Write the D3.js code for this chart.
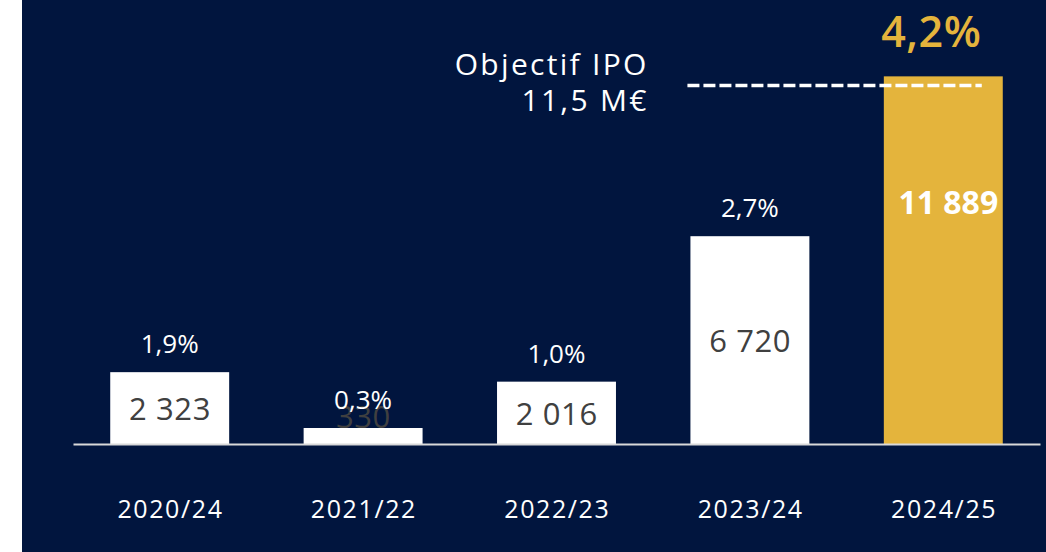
<!DOCTYPE html>
<html>
<head>
<meta charset="utf-8">
<script src="https://cdn.jsdelivr.net/npm/d3@7"></script>
<style>
  html, body { margin: 0; padding: 0; background: #ffffff; }
  svg { display: block; }
  text { font-family: "Open Sans", "Noto Sans", sans-serif; }
</style>
</head>
<body>
<svg id="chart" width="1046" height="552"></svg>
<script>
// ---- Data ----
const categories = ["2020/24", "2021/22", "2022/23", "2023/24", "2024/25"];
const values = [2323, 330, 2016, 6720, 11889];
const valueLabels = ["2 323", "330", "2 016", "6 720", "11 889"];
const pctLabels = ["1,9%", "0,3%", "1,0%", "2,7%", "4,2%"];
const targetValue = 11500;
const targetLabel = ["Objectif IPO", "11,5 M€"];

// ---- Styles ----
const NAVY = "#01153e";
const GOLD = "#e4b43c";
const W = 1046, H = 552;

const svg = d3.select("#chart");
svg.append("rect").attr("x", 22).attr("y", 0).attr("width", W - 22).attr("height", H).attr("fill", NAVY);

const x = d3.scaleBand().domain(categories).range([73, 1040]).paddingInner(0.385).paddingOuter(0.1925);
const y = d3.scaleLinear().domain([0, 13000]).range([444, 42]);
const bw = x.bandwidth();
const last = categories.length - 1;
const minH = 16;

const data = categories.map((c, i) => ({ c, v: values[i], vl: valueLabels[i], pl: pctLabels[i], i }));
const topOf = d => y(0) - Math.max(y(0) - y(d.v), minH);

// bars
svg.append("g").selectAll("rect").data(data).join("rect")
  .attr("x", d => x(d.c))
  .attr("y", d => topOf(d))
  .attr("width", bw)
  .attr("height", d => y(0) - topOf(d))
  .attr("fill", d => d.i === last ? GOLD : "#ffffff");

// baseline axis
const axis = d3.axisBottom(x).tickSize(0).tickPadding(0);
const gAxis = svg.append("g").attr("transform", `translate(0,${y(0)})`).call(axis);
gAxis.select(".domain").attr("stroke", "#d9d9d9").attr("stroke-width", 2);
gAxis.selectAll(".tick text")
  .attr("y", 74).attr("dy", null).attr("x", 0.8)
  .attr("fill", "#ffffff")
  .style("font-family", '"Open Sans", sans-serif')
  .style("font-size", "25px")
  .style("letter-spacing", "1.6px");

// value labels inside bars
svg.append("g").selectAll("text").data(data).join("text")
  .attr("x", d => x(d.c) + bw / 2 + (d.i === last ? 5 : 0.3))
  .attr("y", d => {
    const top = topOf(d), h = y(0) - top;
    if (d.i === last) return top + h * 0.34;
    if (h < 32) return top - 12;
    return top + h / 2;
  })
  .attr("dominant-baseline", "central")
  .attr("text-anchor", "middle")
  .attr("fill", d => d.i === last ? "#ffffff" : "#404040")
  .style("font-size", d => d.i === last ? "32px" : "31px")
  .style("font-weight", d => d.i === last ? 700 : 400)
  .style("letter-spacing", d => d.i === last ? "0px" : "0.6px")
  .text(d => d.vl);

// percentage labels
svg.append("g").selectAll("text").data(data).join("text")
  .attr("x", d => x(d.c) + bw / 2 + (d.i === last ? -12 : 0))
  .attr("y", d => d.i === last ? topOf(d) - 29 : topOf(d) - 19)
  .attr("text-anchor", "middle")
  .attr("fill", d => d.i === last ? GOLD : "#ffffff")
  .style("font-size", d => d.i === last ? "43px" : "26px")
  .style("font-weight", d => d.i === last ? 600 : 400)
  .style("letter-spacing", d => d.i === last ? "0.5px" : "0px")
  .text(d => d.pl);

// target dashed line
const ty = y(targetValue) - 3;
const x0 = x(categories[last - 1]) - 3;
const x1 = x(categories[last]) + bw - 21;
svg.append("line")
  .attr("x1", x0).attr("x2", x1).attr("y1", ty).attr("y2", ty)
  .attr("stroke", "#ffffff").attr("stroke-width", 3.5)
  .attr("stroke-dasharray", "12,4");

svg.append("g").selectAll("text").data(targetLabel).join("text")
  .attr("x", x0 - 41 + 2.3)
  .attr("y", (d, i) => ty - 10 + i * 36)
  .attr("text-anchor", "end")
  .attr("fill", "#ffffff")
  .style("font-size", "30px")
  .style("letter-spacing", "2.3px")
  .text(d => d);
</script>
</body>
</html>
